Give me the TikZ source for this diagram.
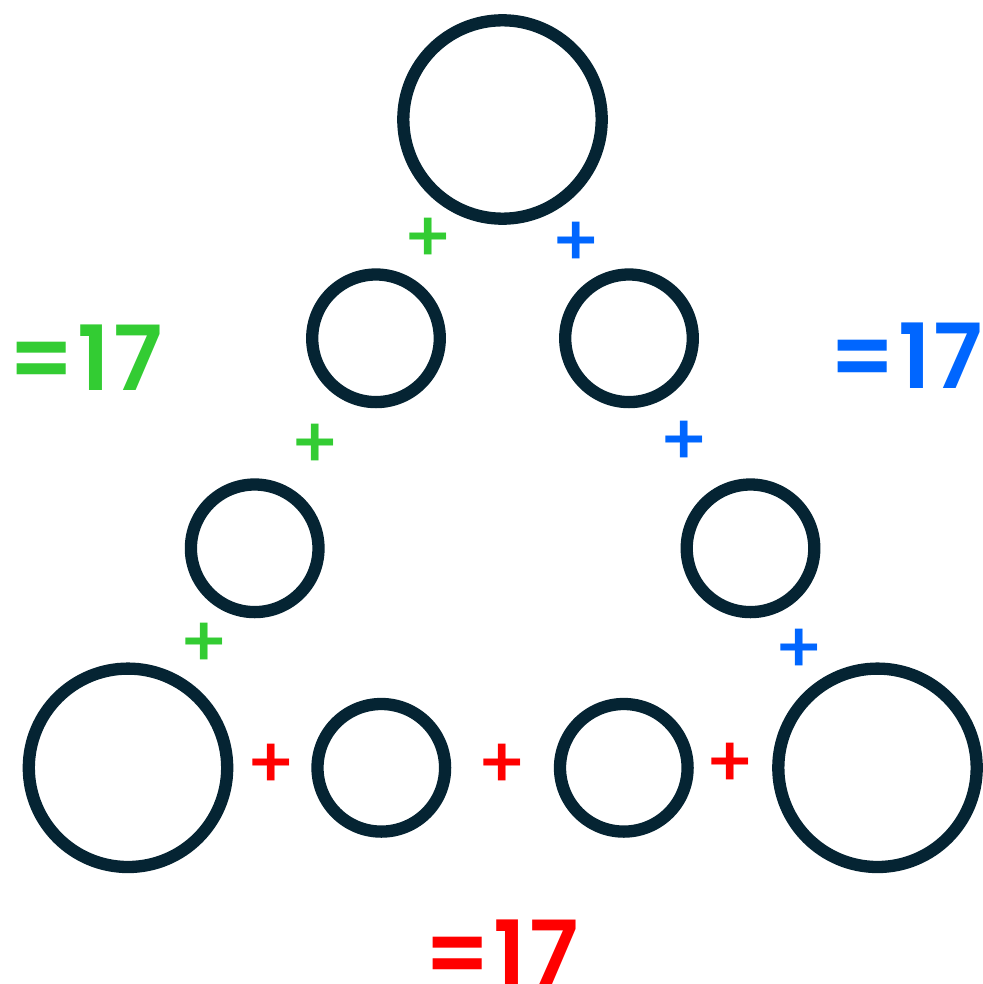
\documentclass[tikz,border=0pt]{standalone}
\usepackage{fontspec}
\setmainfont{Poppins}
\newfontfamily\popsb{Poppins SemiBold}[LetterSpace=3]
\newfontfamily\popmd{Poppins Medium}
\definecolor{ring}{HTML}{052433}
\definecolor{pgreen}{HTML}{33CC33}
\definecolor{pblue}{HTML}{0066FF}
\definecolor{pred}{HTML}{FF0000}
\tikzset{
  bigring/.style={circle, draw=ring, line width=12.3pt, inner sep=0pt, minimum size=198.4pt},
  smallring/.style={circle, draw=ring, line width=12.3pt, inner sep=0pt, minimum size=127.6pt},
  plussign/.style={font=\popmd\fontsize{72}{72}\selectfont, inner sep=0pt},
  total/.style={font=\popsb\fontsize{90}{90}\selectfont, inner sep=0pt, anchor=base}
}
\begin{document}
\begin{tikzpicture}[x=1pt,y=-1pt]
\useasboundingbox (0,0) rectangle (982,984);
% circles
\node[bigring] (top) at (502.5,119.5) {};
\node[smallring] (l2) at (376,338.3) {};
\node[smallring] (r2) at (629,338.3) {};
\node[smallring] (l3) at (254.7,548.3) {};
\node[smallring] (r3) at (750.5,548.3) {};
\node[bigring] (bl) at (128,767.8) {};
\node[smallring] (b2) at (381.3,767.8) {};
\node[smallring] (b3) at (623.8,767.8) {};
\node[bigring] (br) at (877.5,767.8) {};
% plus signs
\node[plussign, text=pgreen] (pg1) at (428.5,240) {+};
\node[plussign, text=pgreen] (pg2) at (315,446) {+};
\node[plussign, text=pgreen] (pg3) at (204.6,645) {+};
\node[plussign, text=pblue] (pb1) at (576,244) {+};
\node[plussign, text=pblue] (pb2) at (684,443) {+};
\node[plussign, text=pblue] (pb3) at (799,651) {+};
\node[plussign, text=pred] (pr1) at (271.5,766.5) {+};
\node[plussign, text=pred] (pr2) at (502.5,766.5) {+};
\node[plussign, text=pred] (pr3) at (730,765.5) {+};
% totals
\node[total, text=pgreen] (tg) at (85.5,390) {=17};
\node[total, text=pblue] (tb) at (906,388) {=17};
\node[total, text=pred] (tr) at (501.5,985) {=17};
\end{tikzpicture}
\end{document}
